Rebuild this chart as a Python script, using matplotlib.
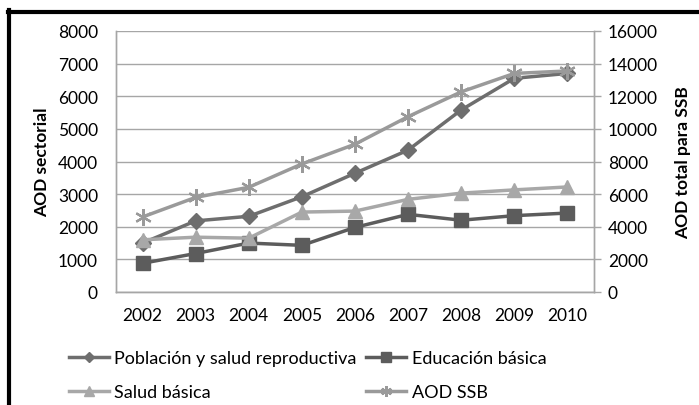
import matplotlib
matplotlib.use("Agg")
import matplotlib.pyplot as plt
from matplotlib.lines import Line2D

years = ["2002", "2003", "2004", "2005", "2006", "2007", "2008", "2009", "2010"]
poblacion = [1500, 2180, 2320, 2920, 3640, 4350, 5580, 6550, 6700]
educacion = [880, 1180, 1500, 1430, 1980, 2380, 2200, 2340, 2420]
salud = [1600, 1680, 1650, 2450, 2480, 2840, 3030, 3130, 3220]
aod_ssb = [4600, 5800, 6420, 7850, 9060, 10750, 12270, 13400, 13550]

left_ticks = [0, 1000, 2000, 3000, 4000, 5000, 6000, 7000, 8000]
right_ticks = [0, 2000, 4000, 6000, 8000, 10000, 12000, 14000, 16000]

plt.rcParams['font.family'] = ['Lato', 'DejaVu Sans']

fig = plt.figure(figsize=(6.99, 4.06), dpi=100)
ax_l, ax_w = 116/699, (594-116)/699
ax = fig.add_axes([ax_l, (406-293)/406, ax_w, (293-32)/406])
ax2 = ax.twinx()

grid_c = "#a6a6a6"
x = list(range(len(years)))

c_pob = "#6e6e6e"
c_edu = "#5c5c5c"
c_sal = "#a8a8a8"
c_aod = "#9a9a9a"

l1, = ax.plot(x, poblacion, color=c_pob, lw=2.5, marker="D", ms=8, mec=c_pob, mfc=c_pob, zorder=3)
l2, = ax.plot(x, educacion, color=c_edu, lw=2.5, marker="s", ms=10, mec=c_edu, mfc=c_edu, zorder=3)
l3, = ax.plot(x, salud, color=c_sal, lw=2.5, marker="^", ms=10, mec=c_sal, mfc=c_sal, zorder=3)
l4, = ax2.plot(x, aod_ssb, color=c_aod, lw=2.5, marker=(6, 2, 0), ms=12, mew=1.6, mec=c_aod, zorder=3)

ax.set_xlim(-0.5, len(years) - 0.5)
ax.set_ylim(0, 8000)
ax2.set_ylim(0, 16000)
ax.set_yticks(left_ticks)
ax2.set_yticks(right_ticks)
ax.set_xticks(x)
ax.set_xticklabels(years)

ax.grid(axis="y", color=grid_c, lw=1)
ax.set_axisbelow(True)

for a in (ax, ax2):
    for s in a.spines.values():
        s.set_color(grid_c)
        s.set_linewidth(1)
    a.spines["top"].set_visible(False)

fs = 12.5
ax.tick_params(axis="x", length=0, pad=11, labelsize=fs, colors="#000000")
ax.tick_params(axis="y", length=0, pad=13, labelsize=fs, colors="#000000")
ax2.tick_params(axis="y", length=5, width=1, color=grid_c, pad=5, labelsize=fs, labelcolor="#000000")

ax.set_ylabel("AOD sectorial", fontsize=12.5, fontweight="bold")
ax2.set_ylabel("AOD total para SSB", fontsize=12.5, fontweight="bold")
ax_wpx = 594 - 116
ax.yaxis.set_label_coords((42 - 116) / ax_wpx, 0.5)
ax2.yaxis.set_label_coords((683 - 116) / ax_wpx, 0.5)
ax.yaxis.label.set_va("center")
ax2.yaxis.label.set_va("center")

leg = fig.legend([l1, l3, l2, l4],
           ["Población y salud reproductiva", "Salud básica", "Educación básica", "AOD SSB"],
           ncol=2, loc="upper left", bbox_to_anchor=(69/699, 1 - 351/406),
           frameon=False, fontsize=13, handlelength=2.2, handletextpad=0.3,
           columnspacing=0.55, labelspacing=1.0, borderpad=0, borderaxespad=0,
           markerscale=0.65)

# frame lines (top and left)
fig.add_artist(Line2D([8/699, 1], [1 - 12.5/406, 1 - 12.5/406], transform=fig.transFigure, color="black", lw=3))
fig.add_artist(Line2D([8.5/699, 8.5/699], [0, 1 - 11/406], transform=fig.transFigure, color="black", lw=3))

fig.savefig("out.png", dpi=100)
